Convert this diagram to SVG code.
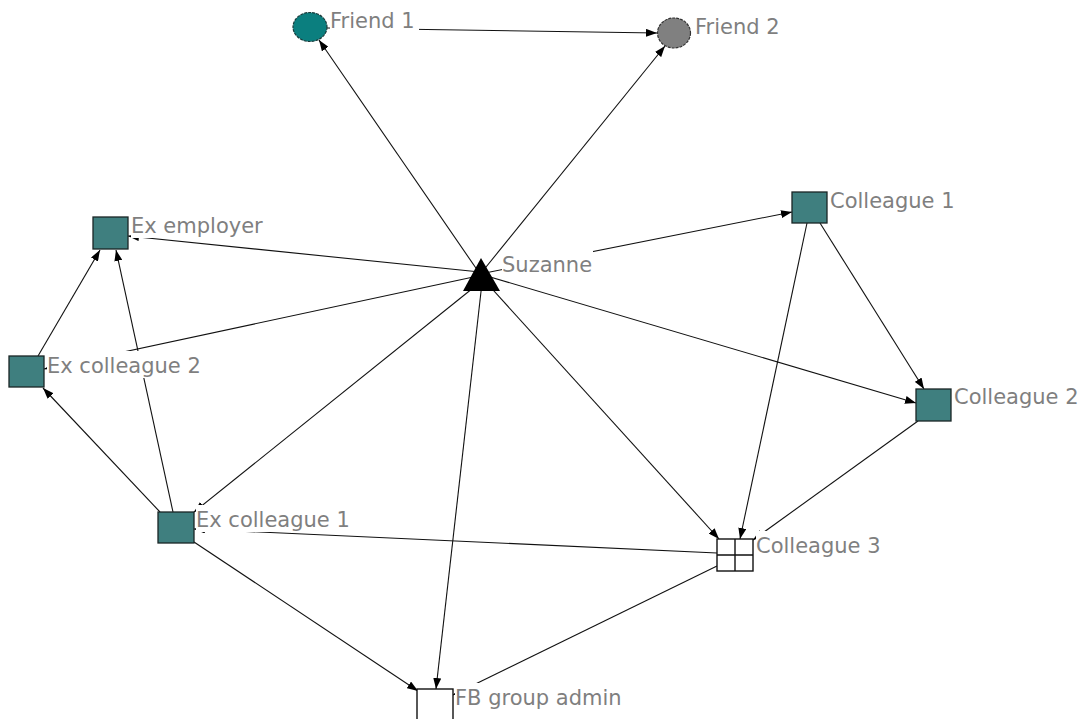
<svg xmlns="http://www.w3.org/2000/svg" width="1081" height="719" viewBox="0 0 1081 719">
<style>
.e{stroke:#111;stroke-width:1.1;fill:none;marker-end:url(#ah)}
.sq{fill:#3f7f7f;stroke:#1a2626;stroke-width:1.3}
.wb{fill:#fff;stroke:#111;stroke-width:1.4}
.bg{fill:#fff}
.lb{font-family:"DejaVu Sans",Verdana,sans-serif;font-size:21px;fill:#7f7f7f}
</style>
<defs>
<marker id="ah" markerUnits="userSpaceOnUse" markerWidth="11" markerHeight="8" refX="11" refY="4" orient="auto">
<path d="M0,0 L11,4 L0,8 z" fill="#000"/>
</marker>
</defs>
<rect width="1081" height="719" fill="#fff"/>
<g id="connectors">
<path class="e" d="M480,274 L319,40"/>
<path class="e" d="M482,272 L665,46"/>
<path class="e" d="M327,28 L657,33"/>
<path class="e" d="M480,274 L792,212"/>
<path class="e" d="M480,274 L916,403"/>
<path class="e" d="M820,223 L924,389"/>
<path class="e" d="M807,223 L740,539"/>
<path class="e" d="M484,280 L719,539"/>
<path class="e" d="M918,421 L753,540"/>
<path class="e" d="M483,274 L436,689"/>
<path class="e" d="M480,272 L128,236"/>
<path class="e" d="M478,276 L44,369"/>
<path class="e" d="M483,280 L194,512"/>
<path class="e" d="M173,512 L116,250"/>
<path class="e" d="M38,356 L100,250"/>
<path class="e" d="M160,512 L43,388"/>
<path class="e" d="M194,542 L418,691"/>
<path class="e" d="M717,566 L453,695"/>
<path class="e" d="M717,553 L194,529"/>
</g>
<g id="friend1">
<ellipse cx="310" cy="27" rx="17" ry="14.5" fill="#0b7f7f" stroke="#1a3a3a" stroke-width="1.2" stroke-dasharray="3,1"/>
<rect class="bg" x="330" y="5" width="89" height="27"/>
<text class="lb" x="330" y="28">Friend 1</text>
</g>
<g id="friend2">
<ellipse cx="674" cy="33" rx="16.5" ry="15" fill="#808080" stroke="#333" stroke-width="1.2" stroke-dasharray="3,1"/>
<rect class="bg" x="695" y="12" width="89" height="27"/>
<text class="lb" x="695" y="34">Friend 2</text>
</g>
<g id="suzanne">
<path d="M481,258 L500,291 L463,291 z" fill="#000"/>
<rect class="bg" x="502" y="250" width="91" height="27"/>
<text class="lb" x="502" y="272">Suzanne</text>
</g>
<g id="ex-employer">
<rect class="sq" x="93" y="217" width="35" height="32"/>
<rect class="bg" x="131" y="211" width="133" height="27"/>
<text class="lb" x="131" y="233">Ex employer</text>
</g>
<g id="colleague1">
<rect class="sq" x="792" y="192" width="35" height="31"/>
<rect class="bg" x="830" y="186" width="126" height="27"/>
<text class="lb" x="830" y="208">Colleague 1</text>
</g>
<g id="colleague2">
<rect class="sq" x="916" y="389" width="35" height="32"/>
<rect class="bg" x="954" y="382" width="126" height="27"/>
<text class="lb" x="954" y="404">Colleague 2</text>
</g>
<g id="ex-colleague2">
<rect class="sq" x="9" y="356" width="35" height="31"/>
<rect class="bg" x="47" y="351" width="155" height="27"/>
<text class="lb" x="47" y="373">Ex colleague 2</text>
</g>
<g id="ex-colleague1">
<rect class="sq" x="158" y="512" width="36" height="31"/>
<rect class="bg" x="196" y="505" width="155" height="27"/>
<text class="lb" x="196" y="527">Ex colleague 1</text>
</g>
<g id="colleague3">
<rect class="wb" x="717" y="539" width="36" height="32"/>
<path d="M735,539 V571 M717,555 H753" stroke="#111" stroke-width="1.4"/>
<rect class="bg" x="756" y="531" width="126" height="27"/>
<text class="lb" x="756" y="553">Colleague 3</text>
</g>
<g id="fb-group-admin">
<rect class="wb" x="417" y="689" width="36" height="40"/>
<rect class="bg" x="455" y="683" width="180" height="27"/>
<text class="lb" x="455" y="705">FB group admin</text>
</g>
</svg>
